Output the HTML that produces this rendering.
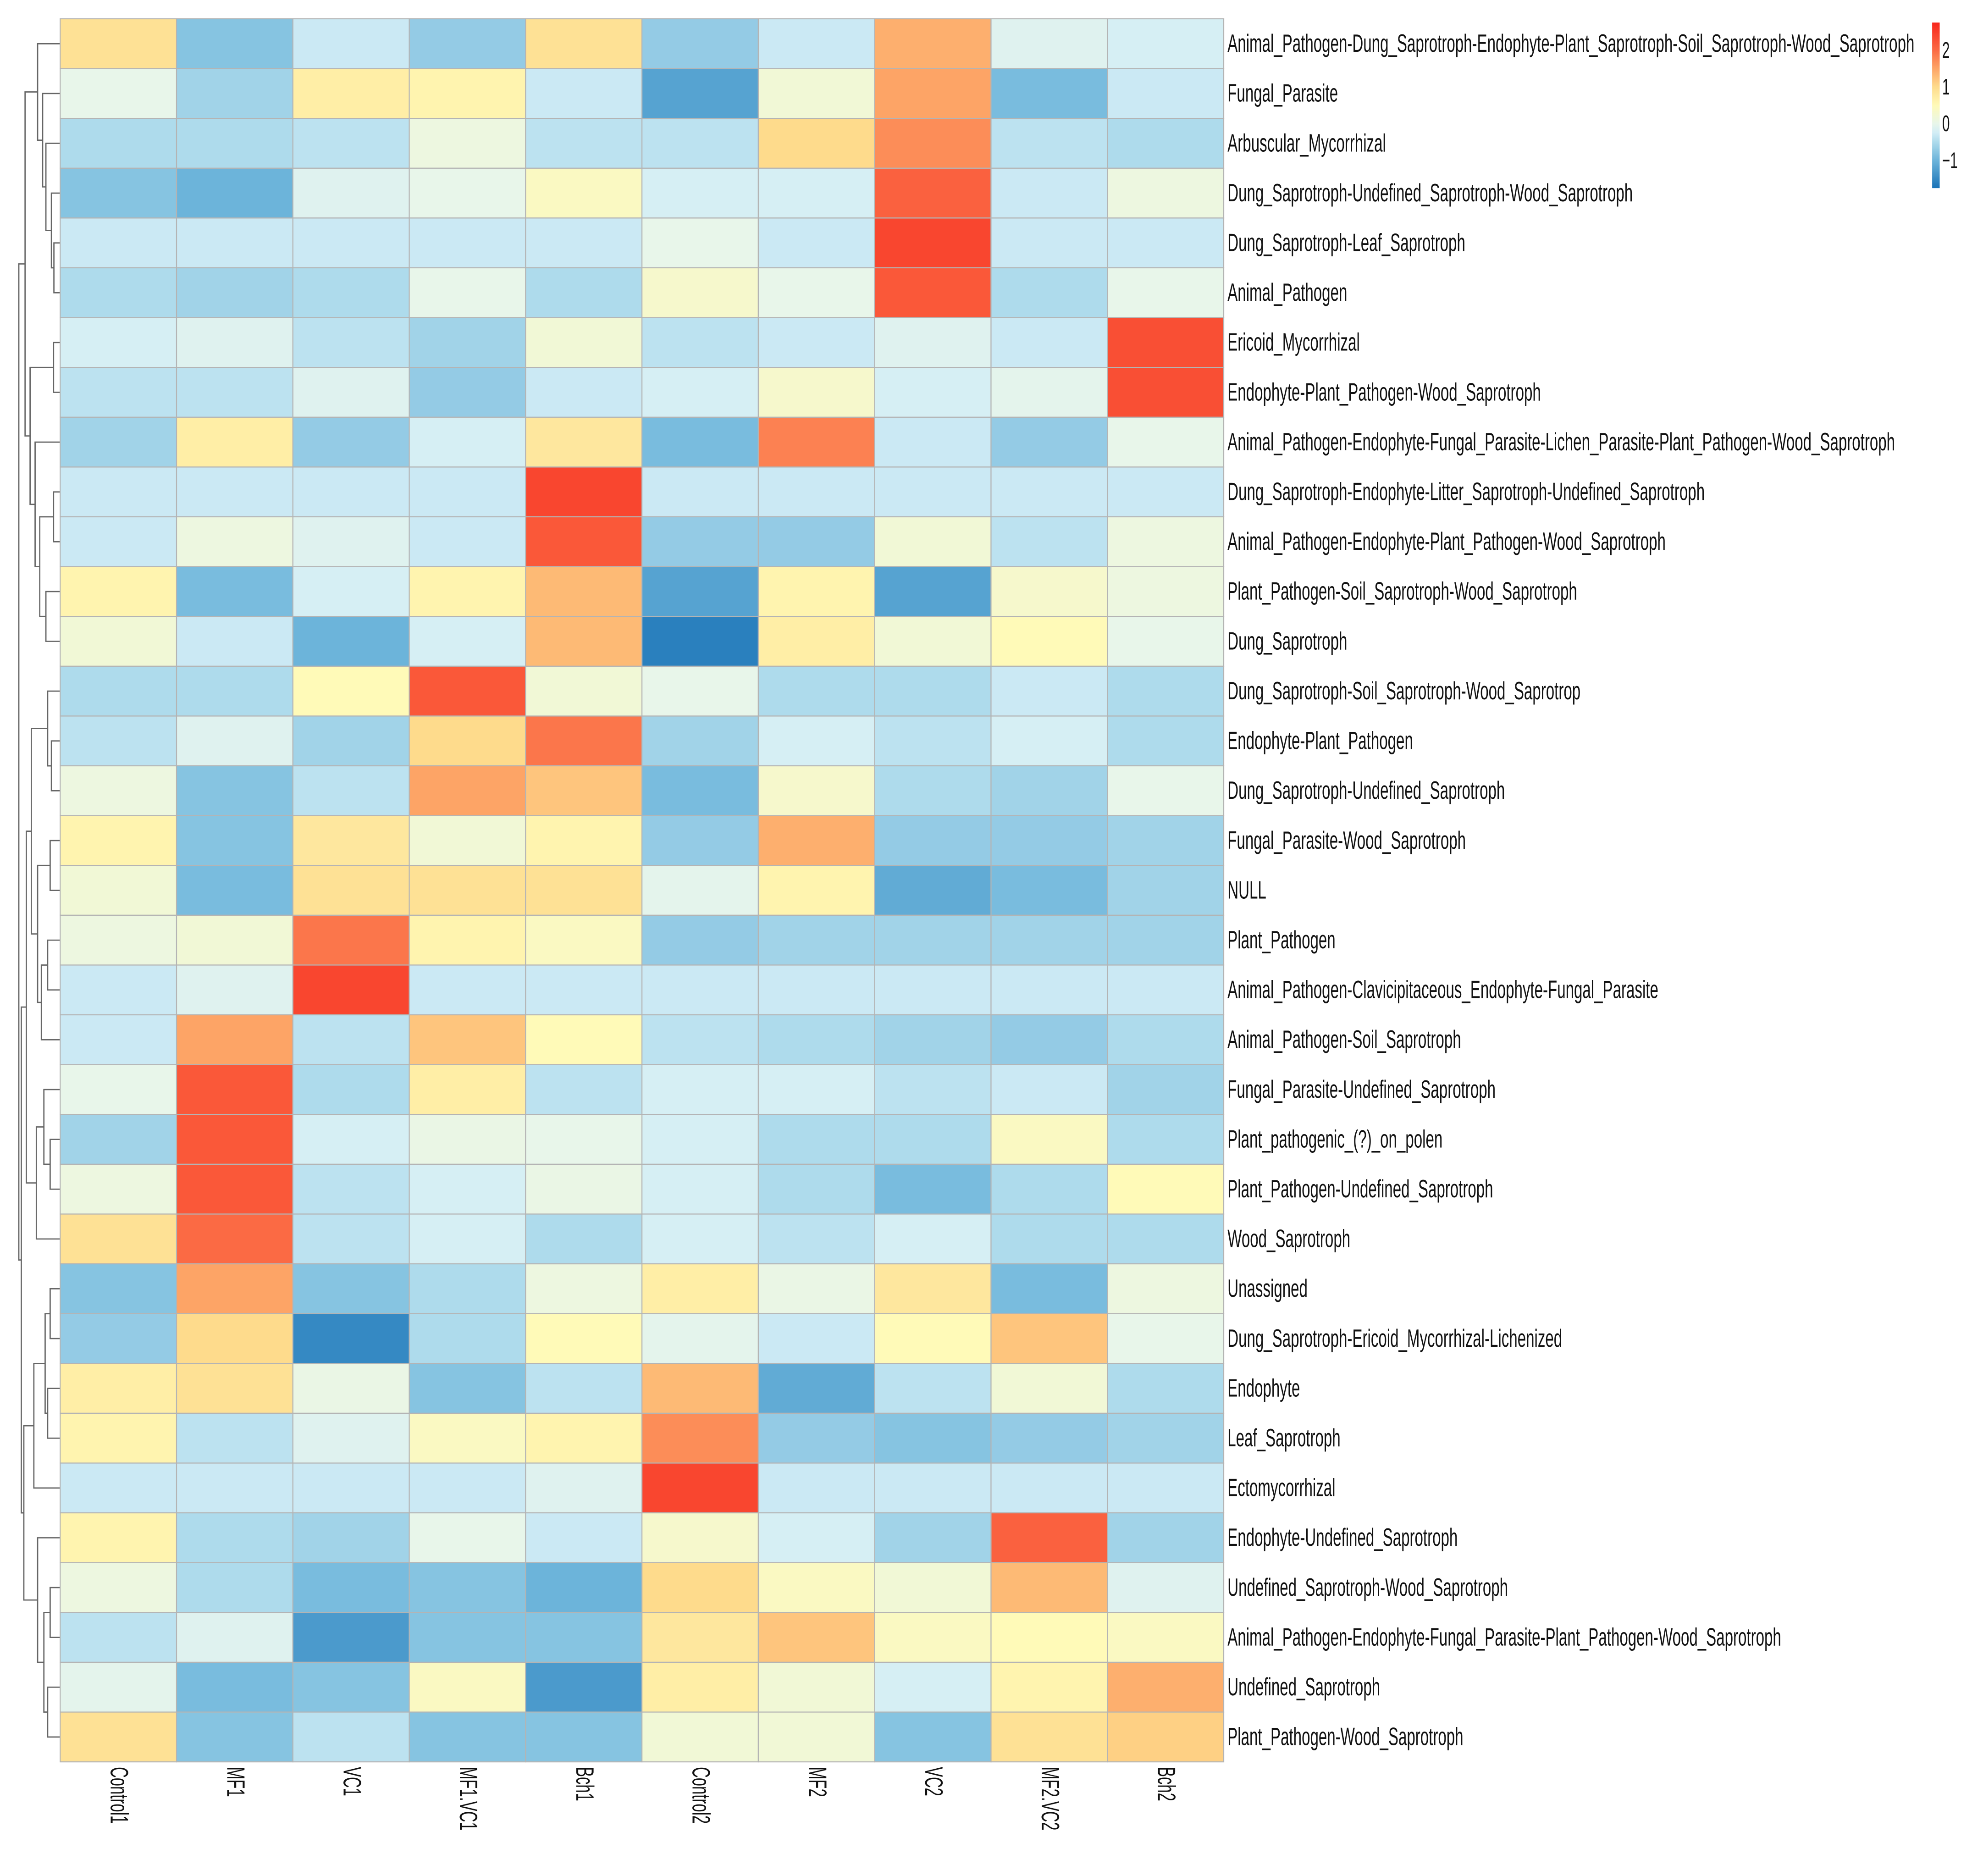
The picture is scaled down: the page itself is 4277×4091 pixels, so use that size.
<!DOCTYPE html>
<html><head><meta charset="utf-8"><style>
html,body{margin:0;padding:0;background:#fff}
svg{display:block}
text{font-family:"Liberation Sans",sans-serif;fill:#111}
</style></head><body>
<svg id="chart" width="4277" height="4091" viewBox="0 0 1564 1496" preserveAspectRatio="none" xmlns="http://www.w3.org/2000/svg">
<defs><linearGradient id="lg" x1="0" y1="1" x2="0" y2="0"></linearGradient></defs>
<g id="dendro"></g>
<g id="cells"></g>
<g id="rlab"></g>
<g id="clab"></g>
<g id="legend"></g>
</svg>
<script>
const columns = ["Control1","MF1","VC1","MF1.VC1","Bch1","Control2","MF2","VC2","MF2.VC2","Bch2"];
const rowLabels = [
"Animal_Pathogen-Dung_Saprotroph-Endophyte-Plant_Saprotroph-Soil_Saprotroph-Wood_Saprotroph",
"Fungal_Parasite","Arbuscular_Mycorrhizal","Dung_Saprotroph-Undefined_Saprotroph-Wood_Saprotroph",
"Dung_Saprotroph-Leaf_Saprotroph","Animal_Pathogen","Ericoid_Mycorrhizal","Endophyte-Plant_Pathogen-Wood_Saprotroph",
"Animal_Pathogen-Endophyte-Fungal_Parasite-Lichen_Parasite-Plant_Pathogen-Wood_Saprotroph",
"Dung_Saprotroph-Endophyte-Litter_Saprotroph-Undefined_Saprotroph",
"Animal_Pathogen-Endophyte-Plant_Pathogen-Wood_Saprotroph","Plant_Pathogen-Soil_Saprotroph-Wood_Saprotroph",
"Dung_Saprotroph","Dung_Saprotroph-Soil_Saprotroph-Wood_Saprotrop","Endophyte-Plant_Pathogen",
"Dung_Saprotroph-Undefined_Saprotroph","Fungal_Parasite-Wood_Saprotroph","NULL","Plant_Pathogen",
"Animal_Pathogen-Clavicipitaceous_Endophyte-Fungal_Parasite","Animal_Pathogen-Soil_Saprotroph",
"Fungal_Parasite-Undefined_Saprotroph","Plant_pathogenic_(?)_on_polen","Plant_Pathogen-Undefined_Saprotroph",
"Wood_Saprotroph","Unassigned","Dung_Saprotroph-Ericoid_Mycorrhizal-Lichenized","Endophyte","Leaf_Saprotroph",
"Ectomycorrhizal","Endophyte-Undefined_Saprotroph","Undefined_Saprotroph-Wood_Saprotroph",
"Animal_Pathogen-Endophyte-Fungal_Parasite-Plant_Pathogen-Wood_Saprotroph","Undefined_Saprotroph",
"Plant_Pathogen-Wood_Saprotroph"];
const values = [
[0.9,-0.8,-0.3,-0.7,0.9,-0.7,-0.3,1.4,-0.1,-0.2],
[0,-0.6,0.7,0.6,-0.3,-1.2,0.2,1.5,-0.9,-0.3],
[-0.5,-0.5,-0.4,0.1,-0.4,-0.4,1.0,1.7,-0.4,-0.5],
[-0.8,-1.0,-0.1,0,0.4,-0.2,-0.2,2.1,-0.3,0.1],
[-0.3,-0.3,-0.3,-0.3,-0.3,0,-0.3,2.4,-0.3,-0.3],
[-0.5,-0.6,-0.5,0,-0.5,0.3,0,2.2,-0.5,0],
[-0.2,-0.1,-0.4,-0.6,0.2,-0.4,-0.3,-0.1,-0.3,2.3],
[-0.4,-0.4,-0.1,-0.7,-0.3,-0.2,0.3,-0.2,-0.05,2.3],
[-0.6,0.7,-0.7,-0.2,0.8,-0.9,1.8,-0.3,-0.7,0],
[-0.3,-0.3,-0.3,-0.3,2.4,-0.3,-0.3,-0.3,-0.3,-0.3],
[-0.3,0.1,-0.1,-0.3,2.2,-0.7,-0.7,0.2,-0.4,0.1],
[0.6,-0.9,-0.2,0.6,1.3,-1.2,0.6,-1.2,0.3,0.1],
[0.2,-0.3,-1.0,-0.2,1.3,-1.6,0.7,0.2,0.5,0],
[-0.5,-0.5,0.5,2.2,0.2,0,-0.5,-0.5,-0.3,-0.5],
[-0.4,-0.1,-0.6,1.0,1.9,-0.6,-0.2,-0.4,-0.2,-0.5],
[0.1,-0.8,-0.4,1.5,1.2,-0.9,0.3,-0.5,-0.6,0],
[0.6,-0.8,0.8,0.2,0.6,-0.7,1.4,-0.7,-0.7,-0.6],
[0.2,-0.9,0.9,0.9,0.9,-0.05,0.6,-1.1,-0.9,-0.6],
[0.1,0.2,1.9,0.6,0.4,-0.7,-0.6,-0.6,-0.6,-0.6],
[-0.3,-0.1,2.4,-0.3,-0.3,-0.3,-0.3,-0.3,-0.3,-0.3],
[-0.3,1.5,-0.4,1.2,0.5,-0.4,-0.5,-0.6,-0.7,-0.5],
[0,2.2,-0.5,0.7,-0.4,-0.2,-0.2,-0.4,-0.3,-0.6],
[-0.6,2.2,-0.2,0.05,0,-0.2,-0.5,-0.5,0.4,-0.5],
[0.1,2.2,-0.4,-0.2,0.05,-0.2,-0.5,-0.9,-0.5,0.5],
[0.9,2.0,-0.4,-0.2,-0.5,-0.2,-0.4,-0.2,-0.5,-0.5],
[-0.8,1.5,-0.8,-0.5,0.1,0.7,0.05,0.8,-0.9,0.1],
[-0.7,1.0,-1.5,-0.5,0.5,-0.05,-0.3,0.5,1.2,0],
[0.7,0.9,0.05,-0.8,-0.4,1.3,-1.1,-0.4,0.2,-0.5],
[0.6,-0.4,-0.1,0.4,0.6,1.7,-0.7,-0.8,-0.7,-0.6],
[-0.3,-0.3,-0.3,-0.3,-0.1,2.4,-0.3,-0.3,-0.3,-0.3],
[0.6,-0.5,-0.6,0,-0.3,0.3,-0.2,-0.6,2.1,-0.6],
[0.1,-0.5,-0.9,-0.8,-1.0,1.0,0.4,0.2,1.3,-0.1],
[-0.4,-0.1,-1.3,-0.8,-0.8,0.8,1.2,0.4,0.5,0.4],
[-0.05,-0.9,-0.8,0.4,-1.3,0.7,0.2,-0.2,0.6,1.4],
[0.9,-0.8,-0.4,-0.8,-0.8,0.2,0.2,-0.8,0.9,1.1]];
const legendTicks = [-1,0,1,2];
const colorStops = [[-1.75,"#1a73b7"],[-1,"#6cb4da"],[-0.5,"#aedbec"],[-0.25,"#d2edf6"],[0,"#e8f6ea"],[0.5,"#fffab8"],[1,"#fedb8c"],[1.5,"#fda466"],[2,"#fb6a44"],[2.75,"#f7261c"]];

const NS="http://www.w3.org/2000/svg";
function mk(tag,attrs,parent){const e=document.createElementNS(NS,tag);for(const k in attrs)e.setAttribute(k,attrs[k]);parent.appendChild(e);return e;}
const X0=48,X1=976,Y0=15,Y1=1405;
const cw=(X1-X0)/columns.length, rh=(Y1-Y0)/rowLabels.length;
const xScale=i=>X0+i*cw, yScale=i=>Y0+i*rh;
function hex(c){return [1,3,5].map(i=>parseInt(c.substr(i,2),16));}
function color(v){
  if(v<=colorStops[0][0])return colorStops[0][1];
  for(let i=1;i<colorStops.length;i++){
    if(v<=colorStops[i][0]){const a=colorStops[i-1],b=colorStops[i];const t=(v-a[0])/(b[0]-a[0]);
      const ca=hex(a[1]),cb=hex(b[1]);return "rgb("+ca.map((x,j)=>Math.round(x+(cb[j]-x)*t)).join(",")+")";}
  }
  return colorStops[colorStops.length-1][1];
}
const cells=document.getElementById('cells');
values.forEach((row,r)=>row.forEach((v,c)=>{
  const el=mk('rect',{x:xScale(c),y:yScale(r),width:cw,height:rh,fill:color(v),stroke:"#b4b4b4","stroke-width":0.8},cells);
  
  
}));
const rlab=document.getElementById('rlab');
rowLabels.forEach((l,r)=>{
  const t=mk('text',{transform:`translate(979,${yScale(r)+rh/2+6.5}) scale(0.605,1)`,"font-size":20},rlab);
  t.textContent=l;
  
  
});
const clab=document.getElementById('clab');
columns.forEach((l,c)=>{
  const t=mk('text',{transform:`translate(${xScale(c)+cw/2-6},1409) rotate(90) scale(0.6,1)`,"font-size":20},clab);
  t.textContent=l;
  
  
});
const lg=document.getElementById('lg');
colorStops.forEach(s=>{mk('stop',{offset:((s[0]+1.75)/4.5),"stop-color":s[1]},lg);});
const legend=document.getElementById('legend');
const LY=v=>150-(v+1.75)/4.5*132;
const bar=mk('rect',{x:1541,y:18,width:6,height:132,fill:"url(#lg)"},legend);


legendTicks.forEach(v=>{
  const t=mk('text',{transform:`translate(1549,${LY(v)+6}) scale(0.6,1)`,"font-size":18},legend);
  t.textContent=v<0?"\u2212"+(-v):String(v);
  
  
});
function n(x,a,b){return {x,a,b};}
const G0=n(30,0,n(34,1,n(36.6,2,n(41,3,n(43,4,5)))));
const A=n(20,G0,n(24,n(42.7,6,7),n(28,8,n(31.7,n(42.7,9,10),n(36.6,11,12)))));
const G1=n(25,n(38,13,n(41,14,15)),n(30,n(40,16,17),n(33,n(38,18,19),20)));
const G2=n(29,n(35,21,n(40,22,23)),24);
const G3=n(27,n(36,n(40,25,26),n(38,27,28)),29);
const G4=n(30,30,n(35,n(40,31,32),n(38,33,34)));
const tree=n(15,A,n(17,n(21,G1,G2),n(19,G3,G4)));
const dg=document.getElementById('dendro');
function draw(node){
  if(typeof node==='number')return {x:X0,y:yScale(node)+rh/2};
  const p=draw(node.a),q=draw(node.b);
  const l=mk('path',{d:`M${p.x},${p.y}H${node.x}V${q.y}H${q.x}`,fill:"none",stroke:"#666","stroke-width":1},dg);
  
  
  return {x:node.x,y:(p.y+q.y)/2};
}
draw(tree);
</script>
</body></html>
